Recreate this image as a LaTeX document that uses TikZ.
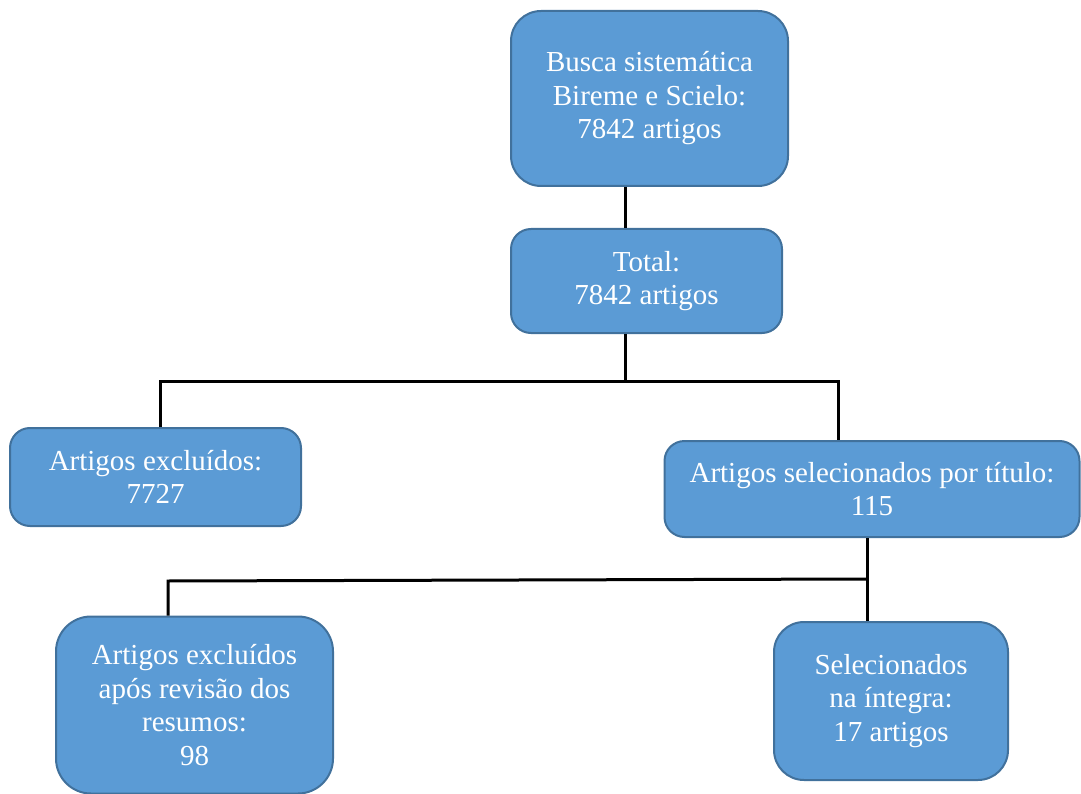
\documentclass[tikz,border=0pt]{standalone}
\usepackage{fontspec}
\setmainfont{Liberation Serif}
\definecolor{boxfill}{HTML}{5B9BD5}
\definecolor{boxline}{HTML}{41719C}
\begin{document}
\begin{tikzpicture}[x=1pt,y=-1pt,
  box/.style={draw=boxline, line width=2pt, fill=boxfill, text=white, align=center,
    inner sep=0pt, font=\fontsize{29}{33.5}\selectfont},
  link/.style={draw=black, line width=3pt}]
\useasboundingbox (0,0) rectangle (1081,794);
\node[box, rounded corners=30pt, minimum width=277pt, minimum height=175pt] (busca) at (649.5,98.5)
  {Busca sistemática\\ Bireme e Scielo:\hspace*{22pt}\\ 7842 artigos};
\node[box, rounded corners=20pt, minimum width=271pt, minimum height=104pt] (total) at (646.5,281)
  {Total:\\ 7842 artigos};
\node[box, rounded corners=20pt, minimum width=291pt, minimum height=98pt] (excl) at (155.5,477)
  {Artigos excluídos:\\ 7727};
\node[box, rounded corners=20pt, minimum width=415pt, minimum height=96pt] (sel) at (872,489)
  {Artigos selecionados por título:\\ 115};
\node[box, rounded corners=35pt, minimum width=277pt, minimum height=177pt] (excl2) at (194.5,705)
  {Artigos excluídos\\ após revisão dos\\ resumos:\\ 98};
\node[box, rounded corners=30pt, minimum width=234pt, minimum height=158pt] (fin) at (891,701)
  {Selecionados\\ na íntegra:\\ 17 artigos};
\coordinate (j1) at (625,381);
\coordinate (j2) at (867,579);
\coordinate (j2l) at (168,581);
\draw[link] ([xshift=-24.5pt]busca.south) -- ([xshift=-21.5pt]total.north);
\draw[link] ([xshift=-21.5pt]total.south) -- (j1);
\draw[link] ([xshift=4.5pt]excl.north) |- (j1) -| ([xshift=-34pt]sel.north);
\draw[link] ([xshift=-5pt]sel.south) -- (j2) -- ([xshift=-24pt]fin.north);
\draw[link] (j2) -- (j2l) -- ([xshift=-26.5pt]excl2.north);
\end{tikzpicture}
\end{document}
